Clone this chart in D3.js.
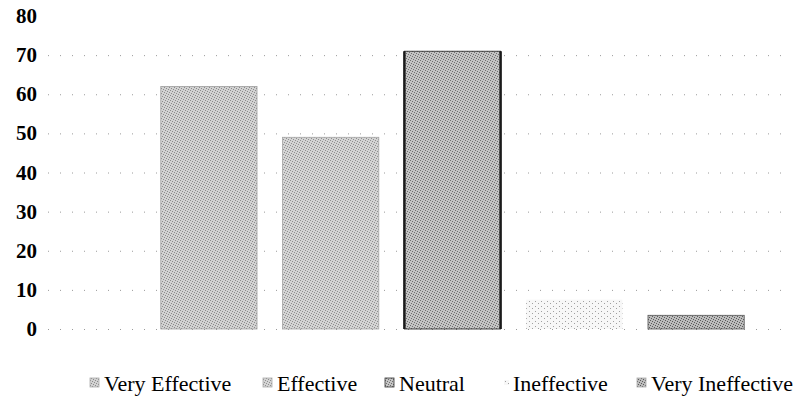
<!DOCTYPE html>
<html>
<head>
<meta charset="utf-8">
<script src="https://cdn.jsdelivr.net/npm/d3@7"></script>
</head>
<body style="margin:0">
<svg id="chart" width="797" height="405"></svg>
<script>
/* Data */
const categories = ['Very Effective', 'Effective', 'Neutral', 'Ineffective', 'Very Ineffective'];
const values     = [62, 49, 71, 7.5, 3.5];
const yTicks     = [0, 10, 20, 30, 40, 50, 60, 70, 80];

/* Geometry */
const Y0 = 329, Y80 = 16;          // pixel rows of 0 and 80
const GRID_X0 = 48, GRID_X1 = 785;
const FONT = "'Times New Roman'";
const LEG_X = [90, 263, 385, 500, 637];   // left edge of each legend swatch

// texture per category: base tone, speckle tone, edge colour
const looks = [
  { base: '#d2d2d2', dot: '#8a8a8a', edge: '#a0a0a0', edgeW: 1 },
  { base: '#d4d4d4', dot: '#8e8e8e', edge: '#a4a4a4', edgeW: 1 },
  { base: '#c4c4c4', dot: '#6e6e6e', edge: '#1a1a1a', edgeW: 2.5 },
  { base: '#f7f7f7', dot: '#a0a0a0', edge: 'none',    edgeW: 0 },
  { base: '#bcbcbc', dot: '#5a5a5a', edge: '#555',    edgeW: 1 }
];

const svg = d3.select('#chart');

/* Patterns (halftone look of the scan) */
const defs = svg.append('defs');
looks.forEach((lk, i) => {
  const p = defs.append('pattern')
    .attr('id', 'tex' + i)
    .attr('patternUnits', 'userSpaceOnUse')
    .attr('width', i === 3 ? 6 : 5)
    .attr('height', 5);
  p.append('rect').attr('width', 8).attr('height', 8).attr('fill', lk.base);
  const pts = i === 3 ? [[1, 1], [4, 3]] : [[0, 0], [2, 1], [4, 2], [1, 3], [3, 4]];
  pts.forEach(([px, py]) => {
    p.append('rect').attr('x', px).attr('y', py)
      .attr('width', 1).attr('height', 1).attr('fill', lk.dot);
  });
});

/* Scales */
const x = d3.scaleBand()
  .domain(categories)
  .range([148, 757])
  .paddingInner(0.21)
  .paddingOuter(0.105);

const y = d3.scaleLinear().domain([0, 80]).range([Y0, Y80]);

/* Gridlines (faint dotted) */
svg.append('g').attr('class', 'grid')
  .selectAll('line')
  .data(yTicks.filter(t => t < 80))
  .join('line')
  .attr('x1', GRID_X0).attr('x2', GRID_X1)
  .attr('y1', d => y(d) + 0.5).attr('y2', d => y(d) + 0.5)
  .attr('stroke', '#9a9a9a')
  .attr('stroke-width', 1)
  .attr('stroke-dasharray', '1 11');

/* Y axis labels */
yTicks.forEach(t => {
  svg.append('text')
    .attr('x', 37)
    .attr('y', y(t) + 7)
    .attr('text-anchor', 'end')
    .style('font-family', FONT)
    .style('font-size', '21px')
    .style('font-weight', 'bold')
    .text(String(t));
});

/* Bars */
const bars = svg.append('g').attr('class', 'bars')
  .selectAll('g')
  .data(categories.map((c, i) => ({ c, v: values[i], i })))
  .join('g');

bars.append('rect')
  .attr('x', d => x(d.c))
  .attr('y', d => y(d.v))
  .attr('width', x.bandwidth())
  .attr('height', d => y(0) - y(d.v))
  .attr('fill', d => `url(#tex${d.i})`)
  .attr('stroke', d => looks[d.i].edge)
  .attr('stroke-width', 0.8);

// heavy dark side edges (Neutral bar)
bars.filter(d => looks[d.i].edgeW > 2).each(function (d) {
  const g = d3.select(this);
  [x(d.c), x(d.c) + x.bandwidth()].forEach(ex => {
    g.append('line')
      .attr('x1', ex).attr('x2', ex)
      .attr('y1', y(d.v)).attr('y2', y(0))
      .attr('stroke', looks[d.i].edge)
      .attr('stroke-width', looks[d.i].edgeW);
  });
});

/* Legend */
const LEG_Y = 391, SW = 9;
categories.forEach((c, i) => {
  const lx = LEG_X[i];
  const sq = i === 3 ? 5 : SW;
  svg.append('rect')
    .attr('x', lx + (i === 3 ? 4 : 0))
    .attr('y', LEG_Y - (i === 3 ? 11 : 13))
    .attr('width', sq).attr('height', sq)
    .attr('fill', `url(#tex${i})`)
    .attr('stroke', i === 3 ? 'none' : (i === 2 ? '#333' : '#aaa'))
    .attr('stroke-width', 0.8);
  svg.append('text')
    .attr('x', lx + (i === 3 ? 13 : SW + 5))
    .attr('y', LEG_Y)
    .style('font-family', FONT)
    .style('font-size', '22px')
    .text(c);
});
</script>
</body>
</html>
